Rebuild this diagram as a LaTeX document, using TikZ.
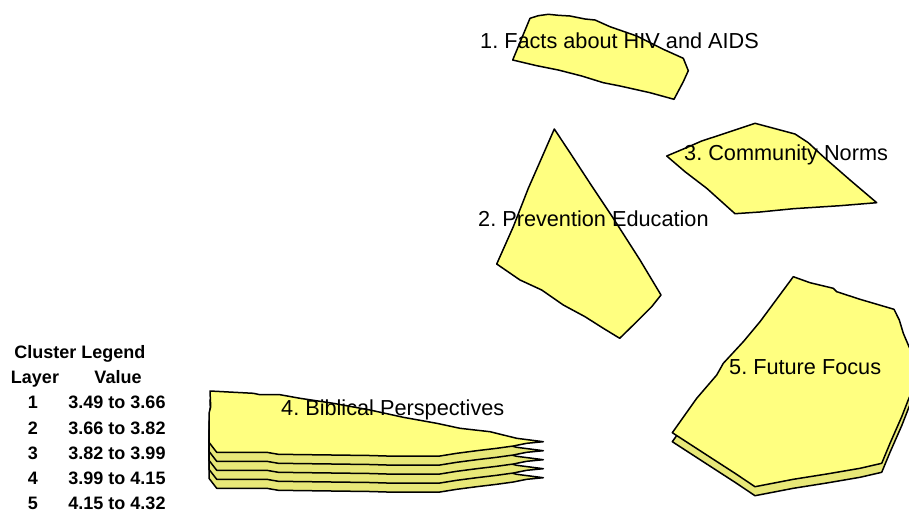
\documentclass[tikz,border=0pt]{standalone}
\usepackage{fontspec}
\setmainfont{Liberation Sans}
\frenchspacing
\definecolor{topfill}{HTML}{FFFF80}
\definecolor{lowfill}{HTML}{E8E878}
\tikzset{
  x=1pt,y=-1pt,
  top/.style={draw=black,line width=1.5pt,fill=topfill,line join=round},
  low/.style={draw=black,line width=1.5pt,fill=lowfill,line join=round},
  lab/.style={font=\fontsize{21.7}{24}\selectfont,anchor=base west,inner sep=0pt,text=black},
  leg/.style={font=\fontsize{18}{20}\selectfont\bfseries,anchor=base,inner sep=0pt,text=black}
}
\def\polyA{(512.7,60)--(530,18.3)--(538.3,15.7)--(548.3,14.3)--(558.3,15.3)--(570,16)--(585,19)--(595,20)--(610,26.7)--(636.7,36)--(663.3,49.3)--(683.3,58.3)--(688.3,70.7)--(683.3,81.7)--(674,99.3)--(650,92.7)--(620,86)--(603.3,82.7)--(581.7,76)--(558.3,70)--(536.7,65.7)--cycle}
\def\polyB{(554.3,129)--(571.5,155)--(590,183.3)--(613.3,218.3)--(640,260)--(661,295)--(651.7,306.7)--(636.7,321.7)--(619.7,338.3)--(603.3,328.3)--(585,316.7)--(563.3,305)--(541.7,290)--(520,280)--(496.7,264)--(513.3,226.7)--(528.3,188.3)--(540,161.7)--cycle}
\def\polyC{(666.7,156)--(685,148.3)--(701.7,141)--(720,135)--(755,123.3)--(770,127.3)--(795,134)--(808.3,142.7)--(823.3,156.7)--(850,180)--(876.7,202.7)--(840,205.7)--(793.3,208.7)--(760,212)--(735,213.7)--(706.7,188.3)--(685,171.7)--cycle}
\def\polyD{(210,391)--(253.3,393.3)--(260,394.7)--(280,394.7)--(300,398.3)--(333.3,403.3)--(370,410)--(403.3,417.3)--(436.7,423.3)--(460,428.3)--(490,431.7)--(516.7,438.3)--(543.3,441.7)--(526.7,443.3)--(513.3,446)--(496.7,448.3)--(476.7,450.7)--(456.7,453.3)--(440,456)--(386.7,456)--(370,455.5)--(278.3,454.3)--(266.7,452.3)--(216.7,452.3)--(209,442.3)--(209,413.3)--(210.7,406.7)--cycle}
\def\polyE{(793.3,276.7)--(810,282.7)--(833.3,288.3)--(836.7,291.7)--(860,299.3)--(894,309.3)--(899.3,320)--(903.3,333.3)--(909,346.7)--(916,362)--(916,385)--(909,398)--(901.7,416.7)--(890,443.3)--(881.7,463.3)--(860,468.3)--(826.7,474)--(793.3,479.3)--(755,486.7)--(735,473.3)--(706.7,455)--(672.3,432.7)--(696.7,398.3)--(716.7,375)--(723.3,363.3)--(743.3,341.7)--(760,321.7)--cycle}
\begin{document}
\begin{tikzpicture}
\clip (0,0) rectangle (909,511);
\fill[white] (0,0) rectangle (909,511);
% cluster 1
\path[top] \polyA;
% cluster 2
\path[top] \polyB;
% cluster 3
\path[top] \polyC;
% cluster 4: five layers
\begin{scope}[yshift=-36pt]\path[low] \polyD;\end{scope}
\begin{scope}[yshift=-27pt]\path[low] \polyD;\end{scope}
\begin{scope}[yshift=-18pt]\path[low] \polyD;\end{scope}
\begin{scope}[yshift=-9pt]\path[low] \polyD;\end{scope}
\path[top] \polyD;
% cluster 5: two layers
\begin{scope}[yshift=-9pt]\path[low] \polyE;\end{scope}
\path[top] \polyE;
% cluster labels
\node[lab] (l1) at (480,48.5) {1. Facts about HIV and AIDS};
\node[lab] (l2) at (478,226.3) {2. Prevention Education};
\node[lab] (l3) at (684,160) {3. Community Norms};
\node[lab] (l4) at (281,415.7) {4. Biblical Perspectives};
\node[lab] (l5) at (729,374) {5. Future Focus};
% legend
\node[leg] (lt) at (80,358.4) {Cluster Legend};
\node[leg] (lh1) at (35,383.4) {Layer};
\node[leg] (lh2) at (118,383.4) {Value};
\node[leg] (n1) at (33,408.6) {1};
\node[leg] (v1) at (117,408.6) {3.49 to 3.66};
\node[leg] (n2) at (33,434.4) {2};
\node[leg] (v2) at (117,434.4) {3.66 to 3.82};
\node[leg] (n3) at (33,459.3) {3};
\node[leg] (v3) at (117,459.3) {3.82 to 3.99};
\node[leg] (n4) at (33,484.3) {4};
\node[leg] (v4) at (117,484.3) {3.99 to 4.15};
\node[leg] (n5) at (33,509) {5};
\node[leg] (v5) at (117,509) {4.15 to 4.32};
\end{tikzpicture}
\end{document}
